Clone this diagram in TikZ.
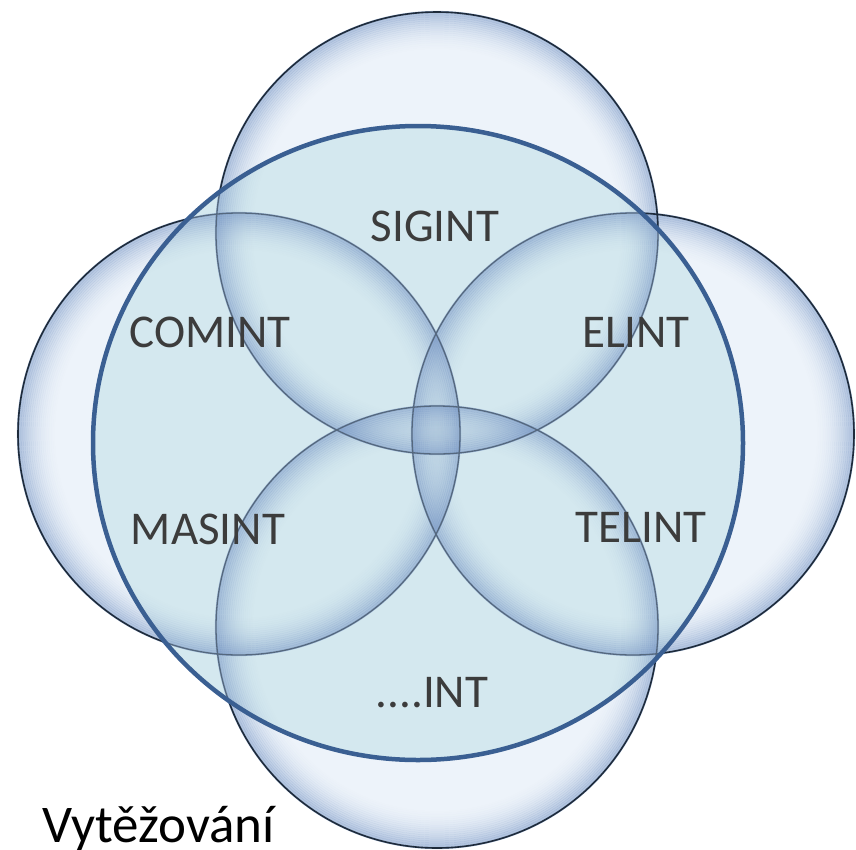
\documentclass[tikz,border=0pt]{standalone}
\usepackage{fontspec}
\setmainfont{Carlito}
\definecolor{bubin}{HTML}{EDF3FA}
\definecolor{bubring}{HTML}{6D8DC0}
\definecolor{bubline}{HTML}{1E2B3B}
\definecolor{bubinline}{HTML}{55687E}
\definecolor{bigfill}{HTML}{D4E8EF}
\definecolor{bigline}{HTML}{3A5F92}
\definecolor{txt}{HTML}{3C3C3C}
\tikzset{
  lab/.style={text=txt, font=\fontsize{47}{50}\selectfont, inner sep=0pt},
  bubblebase/.style={fill=bubin},
}
\begin{document}
\begin{tikzpicture}[x=1pt,y=-1pt]
\useasboundingbox (0,0) rectangle (856,849);
\fill[white] (0,0) rectangle (856,849);
\coordinate (ct) at (437,233);
\coordinate (cb) at (437,627);
\coordinate (cl) at (239,434);
\coordinate (cr) at (633,434);
\coordinate (cc) at (418,443);
% bubble bases
\foreach \c in {ct,cl,cr,cb} \fill[bubblebase] (\c) circle (222pt);
% big circle fill
\fill[bigfill] (cc) ellipse (325pt and 317pt);
% rings: concentric translucent strokes, darker towards the rim
\foreach \c in {ct,cl,cr,cb}{
  \foreach \k in {0,2,...,38}{
    \pgfmathsetmacro{\op}{0.5*(1-\k/40)^2}
    \pgfmathsetmacro{\rr}{221-\k}
    \draw[bubring, line width=2.2pt, draw opacity=\op] (\c) circle (\rr pt);
  }
}
% outlines outside big circle
\begin{scope}[even odd rule]
  \clip (0,0) rectangle (856,849) (cc) ellipse (325pt and 317pt);
  \foreach \c in {ct,cl,cr,cb} \draw[bubline, line width=1.6pt] (\c) circle (221pt);
\end{scope}
% outlines inside big circle
\begin{scope}
  \clip (cc) ellipse (325pt and 317pt);
  \foreach \c in {ct,cl,cr,cb} \draw[bubinline, line width=1.3pt] (\c) circle (221pt);
\end{scope}
\draw[bigline, line width=4.5pt] (cc) ellipse (325pt and 317pt);
% labels
\node[lab] (sig) at (435,226) {SIGINT};
\node[lab] (com) at (210,332) {COMINT};
\node[lab] (eli) at (636,332) {ELINT};
\node[lab] (mas) at (208,529) {MASINT};
\node[lab] (tel) at (641,527) {TELINT};
\node[lab] (int) at (432,693) {....INT};
\node[anchor=base west, inner sep=0pt, font=\fontsize{53}{56}\selectfont] (vyt) at (42,842) {Vytěžování};
\end{tikzpicture}
\end{document}
